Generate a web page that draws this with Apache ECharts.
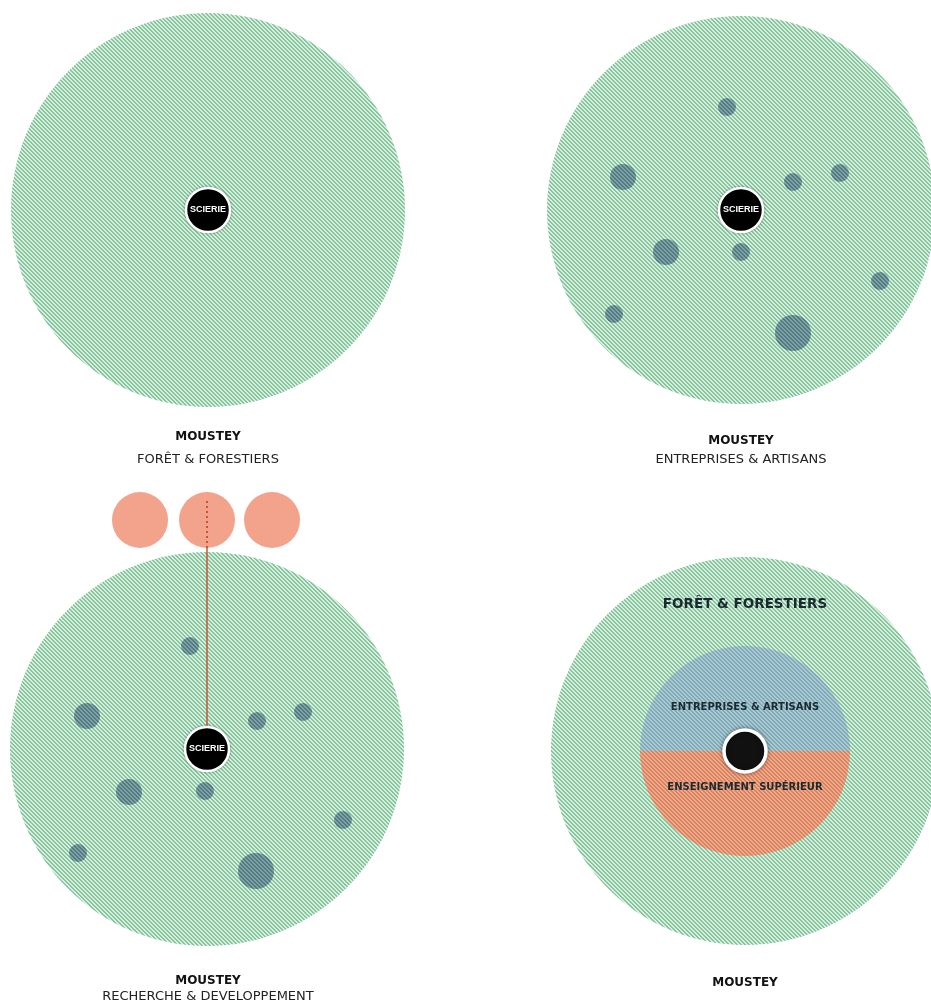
<!DOCTYPE html>
<html>
<head>
<meta charset="utf-8">
<script src="https://cdn.jsdelivr.net/npm/echarts@6/dist/echarts.min.js"></script>
<style>
  html, body { margin: 0; padding: 0; background: #fff; }
  #chart { width: 931px; height: 1005px; }
</style>
</head>
<body>
<div id="chart"></div>
<script>
// big forest circles [x, y, radius]
const forests = [[208, 210, 197], [741, 210, 194], [207, 749, 197], [745, 751, 194]]
// sawmill points [x, y, radius]
const sawmills = [[208, 210, 22], [741, 210, 22], [207, 749, 22]]
// companies & craftsmen, panel 2 and 3 [x, y, radius]
const companiesTop = [[727, 107, 9], [623, 177, 13], [793, 182, 9], [840, 173, 9], [666, 252, 13], [741, 252, 9], [880, 281, 9], [614, 314, 9], [793, 333, 18]]
const companiesBottom = [[190, 646, 9], [87, 716, 13], [257, 721, 9], [303, 712, 9], [129, 792, 13], [205, 791, 9], [343, 820, 9], [78, 853, 9], [256, 871, 18]]
// research bubbles [x, y, radius]
const research = [[140, 520, 28], [207, 520, 28], [272, 520, 28]]
// summary panel shares (upper / lower half)
const summaryShares = [50, 50]
const summaryNames = ['ENTREPRISES & ARTISANS', 'ENSEIGNEMENT SUPÉRIEUR']
// captions [x, y, text]
const titles = [[208, 437, 'MOUSTEY'], [741, 441, 'MOUSTEY'], [208, 981, 'MOUSTEY'], [745, 983, 'MOUSTEY']]
const subtitles = [[208, 460, 'FORÊT & FORESTIERS'], [741, 460, 'ENTREPRISES & ARTISANS'], [208, 997, 'RECHERCHE & DEVELOPPEMENT']]

const stripe = (bg, fg) => {
  const c = document.createElement('canvas')
  c.width = 4
  c.height = 4
  const ctx = c.getContext('2d')
  ctx.fillStyle = bg
  ctx.fillRect(0, 0, 4, 4)
  ctx.fillStyle = fg
  for (let y = 0; y < 4; y++) {
    for (let x = 0; x < 4; x++) {
      const d = ((x - y) % 4 + 4) % 4
      if (d === 0 || d === 1) ctx.fillRect(x, y, 1, 1)
    }
  }
  return { image: c, repeat: 'repeat' }
}

const green = stripe('#d8efe0', '#86c49d')
const teal = stripe('#7fa4a8', '#52797f')
const blue = stripe('#abcad3', '#7fa9b6')
const salmon = stripe('#eeaa8a', '#d98260')

const chart = echarts.init(document.getElementById('chart'))

// circles drawn as custom shapes so the stripe pattern is not scaled
const circles = (name, data, fill, z, stroke) => ({
  name,
  type: 'custom',
  coordinateSystem: 'cartesian2d',
  data,
  z,
  silent: true,
  renderItem: (params, api) => {
    const c = api.coord([api.value(0), api.value(1)])
    const r = api.size([api.value(2), 0])[0]
    return {
      type: 'circle',
      shape: { cx: c[0], cy: c[1], r },
      style: Object.assign({ fill }, stroke || {})
    }
  }
})

const textSeries = (data, label) => ({
  type: 'scatter',
  z: 6,
  symbolSize: 0,
  silent: true,
  itemStyle: { opacity: 1 },
  data,
  label: Object.assign({ show: true, position: 'inside', formatter: p => p.name }, label)
})

chart.setOption({
  animation: false,
  grid: { left: 0, right: 0, top: 0, bottom: 0 },
  xAxis: { type: 'value', min: 0, max: 931, show: false },
  yAxis: { type: 'value', min: 0, max: 1005, inverse: true, show: false },
  series: [
    circles('forest', forests, green, 1),
    {
      type: 'pie',
      z: 2,
      center: [745, 751],
      radius: 105,
      startAngle: 180,
      clockwise: true,
      silent: true,
      label: { show: false },
      labelLine: { show: false },
      data: summaryShares.map((v, i) => ({ value: v, name: summaryNames[i], itemStyle: { color: i === 0 ? blue : salmon } }))
    },
    circles('companiesTop', companiesTop, teal, 3),
    circles('companiesBottom', companiesBottom, teal, 3),
    circles('research', research, '#f3a28c', 3),
    {
      type: 'line',
      z: 4,
      symbol: 'none',
      data: [[207, 501], [207, 548]],
      lineStyle: { color: '#c8553a', width: 2, type: [2, 3] },
      silent: true
    },
    {
      type: 'line',
      z: 4,
      symbol: 'none',
      data: [[207, 548], [207, 728]],
      lineStyle: { color: '#c8553a', width: 1.5 },
      silent: true
    },
    circles('sawmill', sawmills, '#000', 5, { stroke: '#fff', lineWidth: 2.5, shadowColor: 'rgba(0,0,0,0.3)', shadowBlur: 3 }),
    circles('hub', [[745, 751, 21]], '#111', 5, { stroke: '#fff', lineWidth: 3.5, shadowColor: 'rgba(0,0,0,0.4)', shadowBlur: 4 }),
    textSeries(sawmills.map(s => ({ value: [s[0], s[1]], name: 'SCIERIE' })), {
      color: '#fff', fontFamily: 'Liberation Sans', fontWeight: 'bold', fontSize: 9
    }),
    textSeries([
      { value: [745, 604], name: 'FORÊT & FORESTIERS', label: { fontSize: 13.5 } },
      { value: [745, 707], name: summaryNames[0], label: { fontSize: 10 } },
      { value: [745, 787], name: summaryNames[1], label: { fontSize: 10 } }
    ], { color: '#1a2a30', fontFamily: 'DejaVu Sans', fontWeight: 'bold' }),
    textSeries(titles.map(t => ({ value: [t[0], t[1]], name: t[2] })), {
      color: '#111', fontFamily: 'DejaVu Sans', fontWeight: 'bold', fontSize: 12
    }),
    textSeries(subtitles.map(t => ({ value: [t[0], t[1]], name: t[2] })), {
      color: '#222', fontFamily: 'DejaVu Sans', fontSize: 13
    })
  ]
})
</script>
</body>
</html>
